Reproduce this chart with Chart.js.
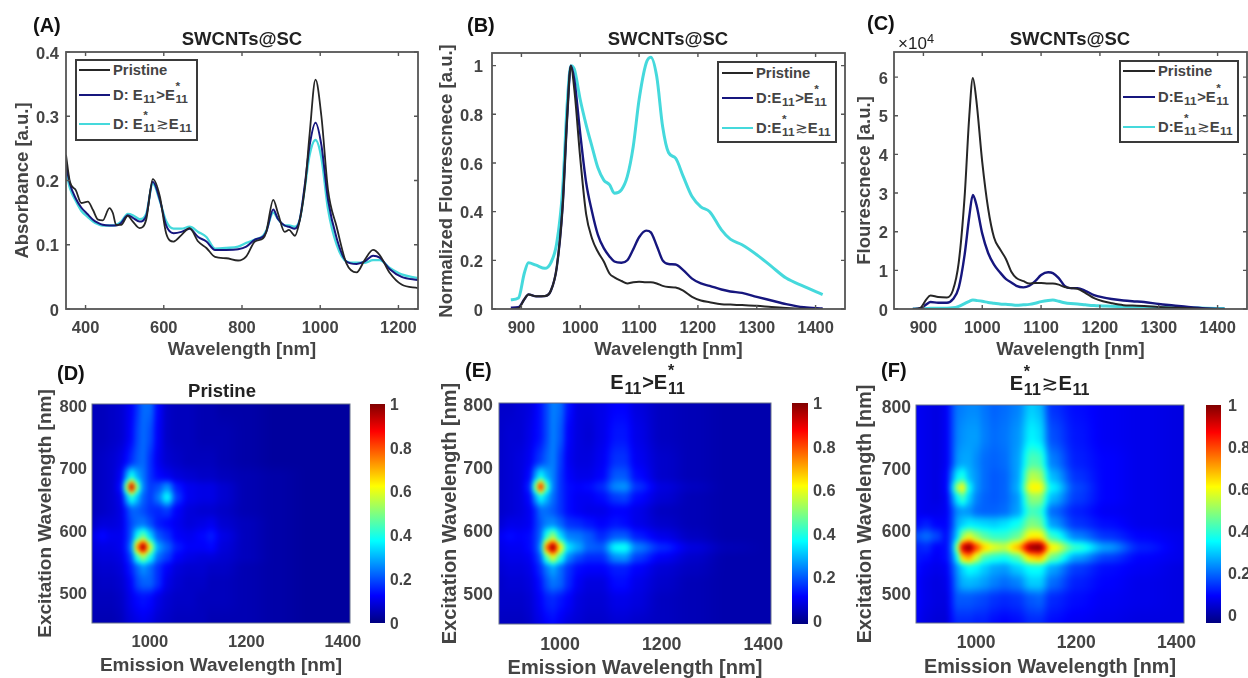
<!DOCTYPE html>
<html>
<head>
<meta charset="utf-8">
<title>SWCNTs@SC</title>
<script src="https://cdn.jsdelivr.net/npm/chart.js@4/dist/chart.umd.min.js"></script>
<style>
  html, body { margin: 0; padding: 0; background: #fff; }
  #page { position: relative; width: 1248px; height: 678px; overflow: hidden; filter: blur(0.7px);
    font-family: "Liberation Sans", Arial, sans-serif; font-weight: bold; color: #444; }
  #page canvas { position: absolute; }
  .lbl { position: absolute; white-space: nowrap; transform: translate(-50%, -50%); line-height: 1; }
  .tag { font-size: 20px; color: #111; transform: translate(0, -50%); }
  .ss { display: inline-block; position: relative; width: 1.16em; height: 1em; font-size: 0.8em; vertical-align: baseline; }
  .ss i { position: absolute; left: 0.05em; font-style: normal; line-height: 1; }
  .ss .up { top: -0.6em; }
  .ss .dn { top: 0.5em; }
  .legend { position: absolute; background: #fff; border: 2px solid #3a3a3a; box-sizing: border-box; }
  .legend .swatch { position: absolute; height: 2px; }
  .legend .text { position: absolute; white-space: nowrap; line-height: 1; font-size: 14.8px; transform: translateY(-50%); }
</style>
</head>
<body>
<div id="page"></div>
<script>
// (A) absorbance
const waveA = [350,360,375,389,406,419,432,444,461,470,478,491,508,521,538,555,572,590,606,625,645,666,688,709,731,760,790,811,833,854,862,880,892,909,920,935,948,961,973,988,1003,1020,1042,1067,1093,1114,1135,1152,1178,1208,1250];
const absPristine = [.24,.198,.185,.165,.167,.154,.139,.138,.157,.149,.131,.131,.145,.136,.126,.139,.202,.175,.118,.105,.115,.126,.105,.095,.081,.079,.0755,.082,.105,.11,.12,.17,.149,.12,.123,.114,.139,.19,.273,.357,.30,.185,.128,.071,.057,.0766,.092,.084,.056,.038,.0326];
const absLow = [.225,.195,.172,.158,.147,.139,.134,.131,.13,.13,.13,.134,.146,.142,.136,.145,.198,.17,.13,.118,.12,.125,.112,.105,.092,.092,.093,.097,.108,.113,.12,.155,.14,.13,.128,.125,.14,.195,.255,.29,.255,.17,.11,.074,.07,.074,.083,.08,.062,.05,.045];
const absHigh = [.215,.188,.168,.153,.143,.136,.132,.13,.13,.13,.131,.136,.148,.146,.14,.148,.195,.168,.137,.125,.125,.128,.12,.112,.094,.095,.097,.103,.108,.114,.122,.15,.14,.13,.13,.128,.14,.19,.24,.263,.235,.155,.10,.074,.072,.072,.076,.076,.064,.054,.048];

// (B) normalized fluorescence, (C) raw fluorescence /1e4, same wavelengths
const waveF = [882,895,905,912,925,940,950,960,970,978,984,990,1000,1010,1020,1030,1040,1050,1058,1070,1080,1090,1100,1112,1120,1130,1140,1150,1162,1175,1190,1205,1220,1240,1255,1275,1300,1325,1350,1380,1412];
const normPristine = [0,.003,.04,.06,.052,.053,.075,.17,.42,.8,1,.9,.62,.39,.29,.235,.195,.145,.13,.115,.105,.11,.112,.11,.11,.105,.095,.09,.088,.075,.05,.035,.028,.02,.018,.016,.013,.008,.004,.001,0];
const normLow = [.005,.007,.04,.06,.052,.053,.075,.17,.42,.8,1,.94,.72,.52,.40,.305,.25,.215,.195,.19,.2,.245,.295,.322,.315,.26,.2,.185,.183,.16,.125,.105,.095,.08,.072,.066,.05,.035,.02,.007,.002];
const normHigh = [.038,.045,.148,.19,.18,.167,.19,.27,.49,.85,1,.985,.86,.757,.667,.58,.53,.51,.476,.49,.545,.667,.86,1.01,1.035,.955,.75,.643,.62,.545,.462,.42,.40,.325,.287,.264,.223,.175,.127,.093,.059];
const rawPristine = [0,.03,.25,.35,.31,.30,.48,1.2,2.9,5,5.98,5.4,3.8,2.6,1.85,1.55,1.3,.95,.8,.72,.66,.67,.67,.66,.66,.63,.57,.54,.52,.42,.28,.2,.15,.1,.09,.08,.05,.035,.02,.005,0];
const rawLow = [0,.02,.12,.18,.16,.16,.25,.55,1.4,2.4,2.95,2.7,1.95,1.45,1.15,.95,.78,.68,.6,.56,.6,.72,.88,.95,.93,.8,.6,.54,.54,.47,.36,.3,.26,.22,.2,.18,.13,.09,.05,.015,0];
const rawHigh = [0,0,.01,.02,.02,.02,.03,.07,.14,.2,.23,.22,.2,.17,.15,.13,.12,.11,.1,.11,.12,.15,.19,.22,.23,.2,.16,.14,.13,.11,.09,.08,.07,.06,.05,.05,.04,.03,.03,.02,.01];

// excitation/emission maps, rows follow excitation (bottom to top), columns follow emission
const emission = [880,900,920,940,950,961,972,985,1000,1015,1035,1055,1080,1110,1125,1150,1200,1260,1330,1415];
const excitation = [450,490,515,540,555,572,590,610,630,652,668,685,710,750,800];
const mapPristine = [
  [.05,.05,.05,.06,.08,.09,.10,.11,.10,.08,.07,.06,.06,.06,.05,.05,.05,.04,.03,.03],
  [.06,.06,.06,.07,.09,.11,.13,.14,.13,.10,.08,.07,.07,.06,.06,.06,.05,.04,.03,.03],
  [.06,.07,.07,.08,.10,.13,.19,.22,.22,.17,.10,.08,.07,.07,.06,.06,.05,.04,.03,.03],
  [.07,.08,.08,.09,.12,.16,.22,.27,.23,.17,.12,.09,.08,.08,.07,.07,.05,.04,.03,.03],
  [.08,.09,.09,.10,.14,.20,.40,.52,.38,.23,.18,.12,.10,.09,.09,.08,.06,.04,.03,.03],
  [.09,.10,.10,.11,.16,.26,.72,1.0,.58,.29,.22,.15,.12,.12,.13,.09,.06,.04,.03,.03],
  [.10,.13,.11,.11,.15,.22,.38,.48,.33,.21,.17,.12,.11,.13,.15,.10,.06,.04,.03,.03],
  [.07,.09,.09,.10,.15,.20,.23,.24,.20,.15,.13,.11,.09,.10,.11,.08,.06,.04,.03,.03],
  [.06,.07,.08,.10,.16,.22,.22,.20,.17,.16,.18,.12,.09,.08,.08,.07,.05,.04,.03,.03],
  [.06,.07,.08,.11,.28,.42,.32,.22,.18,.24,.38,.18,.11,.10,.10,.08,.05,.04,.03,.03],
  [.06,.07,.08,.14,.52,1.0,.52,.25,.18,.20,.27,.15,.11,.10,.10,.08,.05,.04,.03,.03],
  [.06,.07,.08,.12,.27,.40,.30,.24,.17,.13,.11,.09,.08,.07,.07,.06,.05,.04,.03,.03],
  [.06,.07,.08,.10,.13,.17,.21,.23,.17,.11,.08,.07,.06,.06,.06,.05,.04,.03,.03,.03],
  [.06,.06,.07,.08,.10,.13,.19,.23,.20,.12,.07,.06,.06,.05,.05,.05,.04,.03,.03,.03],
  [.06,.06,.07,.08,.10,.12,.17,.23,.23,.13,.07,.06,.06,.05,.05,.04,.04,.03,.03,.03]
];
const mapLow = [
  [.05,.05,.05,.06,.08,.09,.11,.12,.10,.08,.07,.06,.06,.07,.07,.06,.05,.04,.03,.03],
  [.06,.06,.06,.07,.09,.11,.14,.15,.13,.11,.08,.07,.07,.09,.09,.08,.05,.04,.03,.03],
  [.06,.07,.07,.08,.10,.13,.19,.23,.21,.15,.10,.08,.08,.12,.12,.09,.06,.04,.03,.03],
  [.07,.08,.08,.09,.12,.16,.23,.28,.22,.16,.12,.11,.11,.14,.14,.11,.07,.05,.03,.03],
  [.08,.09,.09,.10,.14,.20,.42,.58,.40,.24,.18,.15,.15,.25,.26,.17,.10,.06,.03,.03],
  [.09,.10,.10,.12,.16,.26,.76,1.0,.62,.34,.28,.21,.20,.37,.38,.24,.15,.08,.04,.03],
  [.10,.12,.11,.12,.16,.22,.40,.52,.33,.24,.23,.20,.15,.20,.20,.14,.09,.05,.03,.03],
  [.07,.09,.09,.10,.15,.20,.24,.25,.21,.16,.15,.13,.11,.13,.12,.09,.06,.04,.03,.03],
  [.06,.07,.08,.10,.15,.22,.22,.20,.16,.12,.10,.09,.09,.11,.11,.09,.05,.04,.03,.03],
  [.06,.07,.08,.12,.26,.38,.30,.22,.16,.12,.10,.10,.12,.17,.18,.12,.07,.04,.03,.03],
  [.06,.07,.08,.15,.48,.90,.46,.24,.16,.12,.11,.12,.15,.25,.26,.16,.08,.05,.03,.03],
  [.06,.07,.08,.12,.26,.37,.29,.24,.16,.11,.09,.09,.11,.20,.20,.12,.06,.04,.03,.03],
  [.06,.07,.08,.10,.14,.17,.21,.24,.17,.10,.08,.08,.10,.16,.16,.10,.06,.04,.03,.03],
  [.06,.07,.07,.09,.11,.13,.18,.24,.20,.11,.08,.07,.09,.13,.13,.09,.05,.04,.03,.03],
  [.06,.06,.07,.08,.10,.13,.18,.24,.22,.13,.08,.08,.09,.11,.11,.08,.05,.04,.03,.03]
];
const mapHigh = [
  [.08,.06,.05,.05,.10,.13,.13,.13,.12,.12,.10,.09,.10,.13,.13,.10,.08,.07,.06,.06],
  [.09,.07,.06,.06,.12,.18,.18,.18,.17,.16,.14,.13,.14,.18,.19,.13,.10,.08,.07,.06],
  [.09,.07,.06,.07,.13,.22,.27,.28,.27,.25,.22,.20,.22,.30,.30,.20,.12,.09,.07,.06],
  [.10,.08,.07,.08,.15,.24,.31,.36,.34,.30,.26,.25,.30,.36,.36,.26,.15,.10,.08,.06],
  [.11,.10,.08,.10,.18,.35,.65,.70,.55,.42,.38,.36,.42,.65,.68,.45,.25,.15,.09,.07],
  [.12,.13,.09,.10,.20,.50,.92,1.0,.80,.66,.58,.55,.68,.98,1.0,.62,.40,.25,.12,.07],
  [.17,.20,.16,.10,.18,.30,.50,.58,.50,.44,.40,.40,.45,.62,.62,.40,.22,.14,.09,.07],
  [.10,.12,.09,.09,.15,.26,.30,.33,.32,.31,.30,.32,.36,.48,.46,.25,.14,.10,.07,.06],
  [.08,.07,.07,.08,.15,.23,.25,.24,.20,.19,.19,.20,.25,.42,.40,.20,.12,.08,.07,.06],
  [.08,.07,.06,.08,.20,.34,.42,.30,.22,.19,.18,.19,.24,.50,.50,.28,.15,.09,.07,.06],
  [.08,.07,.06,.09,.26,.52,.62,.35,.24,.20,.18,.19,.26,.62,.62,.34,.16,.09,.07,.06],
  [.08,.07,.06,.09,.21,.34,.38,.28,.24,.20,.18,.19,.25,.54,.52,.28,.14,.09,.07,.06],
  [.08,.07,.06,.08,.15,.24,.26,.26,.23,.20,.19,.20,.25,.43,.42,.22,.12,.09,.07,.06],
  [.08,.07,.06,.08,.15,.22,.24,.25,.25,.22,.20,.21,.24,.34,.32,.17,.11,.08,.07,.06],
  [.08,.07,.06,.08,.15,.21,.22,.23,.23,.21,.19,.20,.22,.30,.28,.14,.10,.08,.07,.06]
];

// tick labels
const ticksAx = [400,600,800,1000,1200];
const ticksAy = [0,0.1,0.2,0.3,0.4];
const ticksBx = [900,1000,1100,1200,1300,1400];
const ticksBy = [0,0.2,0.4,0.6,0.8,1];
const ticksCy = [0,1,2,3,4,5,6];
const ticksMapX = [1000,1200,1400];
const ticksMapY = [500,600,700,800];
const ticksBar = [0,0.2,0.4,0.6,0.8,1];

const BLACK = '#262626', NAVY = '#16167e', CYAN = '#45d9dc';
const FONT = 'Liberation Sans, Arial, sans-serif';
const TEXT = '#444';
const page = document.getElementById('page');

function makeCanvas(l, t, r, b) {
  const c = document.createElement('canvas');
  c.width = r - l;
  c.height = b - t;
  c.style.left = l + 'px';
  c.style.top = t + 'px';
  page.appendChild(c);
  return c.getContext('2d');
}

function label(html, x, y, size, cls) {
  const d = document.createElement('div');
  d.className = 'lbl ' + (cls || '');
  d.style.left = x + 'px';
  d.style.top = y + 'px';
  if (size) d.style.fontSize = size + 'px';
  d.style.color = cls ? '' : '#222';
  d.innerHTML = html;
  page.appendChild(d);
}

const E11 = 'E<span class="ss"><i class="dn">11</i></span>';
const ES11 = 'E<span class="ss"><i class="up">*</i><i class="dn">11</i></span>';
const GE = '<span style="font-weight:normal;font-family:DejaVu Sans">\u2273</span>';

function legend(box, swatchX, swatchW, textX, rows) {
  const d = document.createElement('div');
  d.className = 'legend';
  d.style.left = box[0] + 'px';
  d.style.top = box[1] + 'px';
  d.style.width = (box[2] - box[0]) + 'px';
  d.style.height = (box[3] - box[1]) + 'px';
  rows.forEach(r => {
    const s = document.createElement('div');
    s.className = 'swatch';
    s.style.left = (swatchX - box[0] - 2) + 'px';
    s.style.width = swatchW + 'px';
    s.style.top = (r.y - box[1] - 3) + 'px';
    s.style.background = r.color;
    d.appendChild(s);
    const t = document.createElement('div');
    t.className = 'text';
    t.style.left = (textX - box[0] - 2) + 'px';
    t.style.top = (r.y - box[1] - 2) + 'px';
    t.innerHTML = r.html;
    d.appendChild(t);
  });
  page.appendChild(d);
}

// MATLAB style box: frame plus inward ticks on all four sides
const boxPlugin = {
  id: 'matlabBox',
  afterDatasetsDraw(chart) {
    const { ctx, chartArea: a, scales } = chart;
    ctx.save();
    ctx.strokeStyle = '#555';
    ctx.lineWidth = 1.8;
    ctx.strokeRect(a.left, a.top, a.right - a.left, a.bottom - a.top);
    ctx.lineWidth = 1.4;
    ctx.beginPath();
    scales.x.ticks.forEach(t => {
      const px = scales.x.getPixelForValue(t.value);
      ctx.moveTo(px, a.bottom); ctx.lineTo(px, a.bottom - 4);
      ctx.moveTo(px, a.top); ctx.lineTo(px, a.top + 4);
    });
    scales.y.ticks.forEach(t => {
      const py = scales.y.getPixelForValue(t.value);
      ctx.moveTo(a.left, py); ctx.lineTo(a.left + 4, py);
      ctx.moveTo(a.right, py); ctx.lineTo(a.right - 4, py);
    });
    ctx.stroke();
    ctx.restore();
  }
};

function zip(xs, ys) {
  return xs.map((x, i) => ({ x: x, y: ys[i] }));
}

function axes(cfg) {
  return {
    x: {
      type: 'linear', min: cfg.xMin, max: cfg.xMax,
      grid: { display: false, drawTicks: false },
      border: { display: false },
      afterBuildTicks: s => { s.ticks = cfg.xTicks.map(v => ({ value: v })); },
      afterFit: s => { s.height = cfg.bottom - cfg.plot[3]; s.paddingLeft = 0; s.paddingRight = 0; },
      ticks: { callback: v => String(v), autoSkip: false, maxRotation: 0, padding: cfg.xPad,
        color: TEXT, font: { family: FONT, weight: 'bold', size: cfg.tickSize } },
      title: { display: true, text: cfg.xTitle, color: TEXT, padding: { top: 0, bottom: cfg.xTitlePad },
        font: { family: FONT, weight: 'bold', size: cfg.titleSize } }
    },
    y: {
      type: 'linear', min: cfg.yMin, max: cfg.yMax,
      grid: { display: false, drawTicks: false },
      border: { display: false },
      afterBuildTicks: s => { s.ticks = cfg.yTicks.map(v => ({ value: v })); },
      afterFit: s => { s.width = cfg.plot[0] - cfg.left; s.paddingTop = 0; s.paddingBottom = 0; },
      ticks: { callback: v => String(v), autoSkip: false, padding: cfg.yPad, labelOffset: cfg.yShift,
        color: TEXT, font: { family: FONT, weight: 'bold', size: cfg.tickSize } },
      title: { display: true, text: cfg.yTitle, color: TEXT, padding: { top: cfg.yTitlePad, bottom: 0 },
        font: { family: FONT, weight: 'bold', size: cfg.titleSize } }
    }
  };
}

function baseOptions(cfg) {
  return {
    responsive: false,
    animation: false,
    devicePixelRatio: 1,
    layout: { padding: { left: 0, bottom: 0, top: cfg.plot[1] - cfg.top, right: cfg.right - cfg.plot[2] } },
    plugins: { legend: { display: false }, tooltip: { enabled: false } },
    scales: axes(cfg)
  };
}

function spectrum(cfg, xs, series) {
  const ctx = makeCanvas(cfg.left, cfg.top, cfg.right, cfg.bottom);
  return new Chart(ctx, {
    type: 'line',
    data: {
      datasets: series.map(s => ({
        data: zip(xs, s.values), borderColor: s.color, borderWidth: s.width,
        pointRadius: 0, cubicInterpolationMode: 'monotone', fill: false
      }))
    },
    options: baseOptions(cfg),
    plugins: [boxPlugin]
  });
}

function jet(t) {
  const c = v => Math.max(0, Math.min(1, v)) * 255;
  return [c(1.5 - Math.abs(4 * t - 3)), c(1.5 - Math.abs(4 * t - 2)), c(1.5 - Math.abs(4 * t - 1))];
}

// index of the grid step holding v, with an eased fraction so spots come out round
function bracket(list, v) {
  let i = 0;
  while (i < list.length - 2 && v > list[i + 1]) i++;
  const f = Math.max(0, Math.min(1, (v - list[i]) / (list[i + 1] - list[i])));
  return [i, f * f * (3 - 2 * f)];
}

// paints the shaded surface from the dataset, positions come from the chart scales
function heatPlugin(cmin) {
  return {
    id: 'heat',
    beforeDatasetsDraw(chart) {
      const { ctx, chartArea: a, scales } = chart;
      const cols = emission.length;
      const pts = chart.data.datasets[0].data;
      const margin = 8;
      const w = Math.round(a.right - a.left) + margin * 2;
      const h = Math.round(a.bottom - a.top) + margin * 2;
      const off = document.createElement('canvas');
      off.width = w;
      off.height = h;
      const octx = off.getContext('2d');
      const img = octx.createImageData(w, h);
      for (let py = 0; py < h; py++) {
        const [r, fy] = bracket(excitation, scales.y.getValueForPixel(a.top - margin + py));
        for (let px = 0; px < w; px++) {
          const [c, fx] = bracket(emission, scales.x.getValueForPixel(a.left - margin + px));
          const v00 = pts[r * cols + c].v, v01 = pts[r * cols + c + 1].v;
          const v10 = pts[(r + 1) * cols + c].v, v11 = pts[(r + 1) * cols + c + 1].v;
          const v = (v00 * (1 - fx) + v01 * fx) * (1 - fy) + (v10 * (1 - fx) + v11 * fx) * fy;
          const rgb = jet((v - cmin) / (1 - cmin));
          const o = (py * w + px) * 4;
          img.data[o] = rgb[0]; img.data[o + 1] = rgb[1]; img.data[o + 2] = rgb[2]; img.data[o + 3] = 255;
        }
      }
      octx.putImageData(img, 0, 0);
      ctx.save();
      ctx.beginPath();
      ctx.rect(a.left, a.top, a.right - a.left, a.bottom - a.top);
      ctx.clip();
      ctx.filter = 'blur(2px)';
      ctx.drawImage(off, a.left - margin, a.top - margin);
      ctx.restore();
      ctx.strokeStyle = '#67708a';
      ctx.lineWidth = 1;
      ctx.strokeRect(a.left, a.top, a.right - a.left, a.bottom - a.top);
    }
  };
}

function heatmap(cfg, grid, cmin) {
  const ctx = makeCanvas(cfg.left, cfg.top, cfg.right, cfg.bottom);
  const pts = [];
  grid.forEach((row, r) => row.forEach((v, c) => pts.push({ x: emission[c], y: excitation[r], v: v })));
  return new Chart(ctx, {
    type: 'scatter',
    data: { datasets: [{ data: pts, pointRadius: 0 }] },
    options: baseOptions(cfg),
    plugins: [heatPlugin(cmin)]
  });
}

function colorbar(bar, cmin, pad, size) {
  const top = bar[1] - 12, bottom = bar[3] + 12, right = bar[2] + 42;
  const ctx = makeCanvas(bar[0], top, right, bottom);
  return new Chart(ctx, {
    type: 'bar',
    data: {
      labels: [''],
      datasets: [{
        data: [[cmin, 1]],
        barPercentage: 1, categoryPercentage: 1, borderSkipped: false,
        backgroundColor: c => {
          const a = c.chart.chartArea;
          if (!a) return '#00f';
          const g = c.chart.ctx.createLinearGradient(0, a.bottom, 0, a.top);
          [0, 0.125, 0.375, 0.625, 0.875, 1].forEach(s => {
            const rgb = jet(s);
            g.addColorStop(s, 'rgb(' + rgb.join(',') + ')');
          });
          return g;
        }
      }]
    },
    options: {
      responsive: false, animation: false, devicePixelRatio: 1,
      layout: { padding: { top: 12, bottom: 12, left: 0, right: 0 } },
      plugins: { legend: { display: false }, tooltip: { enabled: false } },
      scales: {
        x: { display: false },
        y: {
          position: 'right', min: cmin, max: 1,
          grid: { display: false, drawTicks: false },
          border: { display: false },
          afterBuildTicks: s => { s.ticks = ticksBar.map(v => ({ value: v })); },
          afterFit: s => { s.width = 42; s.paddingTop = 0; s.paddingBottom = 0; },
          ticks: { callback: v => String(v), autoSkip: false, padding: pad, labelOffset: 1.5, color: TEXT,
            font: { family: FONT, weight: 'bold', size: size } }
        }
      }
    }
  });
}

const lineBase = { tickSize: 16.5, titleSize: 18.5, xPad: 10, yShift: 2 };

spectrum(Object.assign({}, lineBase, {
  left: 0, top: 40, right: 425, bottom: 362, plot: [66, 52, 418, 309],
  xMin: 350, xMax: 1250, yMin: 0, yMax: 0.4, xTicks: ticksAx, yTicks: ticksAy,
  xTitle: 'Wavelength [nm]', yTitle: 'Absorbance [a.u.]', yPad: 7, yTitlePad: 12, xTitlePad: 1
}), waveA, [
  { values: absPristine, color: BLACK, width: 1.8 },
  { values: absLow, color: NAVY, width: 2 },
  { values: absHigh, color: CYAN, width: 2.3 }
]);

spectrum(Object.assign({}, lineBase, {
  left: 430, top: 40, right: 852, bottom: 362, plot: [492, 53, 845, 309],
  xMin: 850, xMax: 1450, yMin: 0, yMax: 1.052, xTicks: ticksBx, yTicks: ticksBy,
  xTitle: 'Wavelength [nm]', yTitle: 'Normalized Flourescnece [a.u.]', yPad: 9, yTitlePad: 6, xTitlePad: 1
}), waveF, [
  { values: normPristine, color: BLACK, width: 2 },
  { values: normLow, color: NAVY, width: 2.4 },
  { values: normHigh, color: CYAN, width: 3 }
]);

spectrum(Object.assign({}, lineBase, {
  left: 850, top: 40, right: 1254, bottom: 362, plot: [894, 52, 1247, 309],
  xMin: 850, xMax: 1450, yMin: 0, yMax: 6.65, xTicks: ticksBx, yTicks: ticksCy,
  xTitle: 'Wavelength [nm]', yTitle: 'Flourescnece [a.u.]', yPad: 6, yTitlePad: 4, xTitlePad: 1
}), waveF, [
  { values: rawPristine, color: BLACK, width: 2 },
  { values: rawLow, color: NAVY, width: 2.4 },
  { values: rawHigh, color: CYAN, width: 3 }
]);

const mapBase = {
  xMin: 880, xMax: 1415, yMin: 450, yMax: 800, xTicks: ticksMapX, yTicks: ticksMapY,
  xTitle: 'Emission Wavelength [nm]', yTitle: 'Excitation Wavelength [nm]', xPad: 10, yShift: 3
};

heatmap(Object.assign({}, mapBase, {
  left: 20, top: 375, right: 380, bottom: 682, plot: [92, 404, 350, 623],
  tickSize: 16.5, titleSize: 19, yPad: 5, yTitlePad: 14, xTitlePad: 5
}), mapPristine, 0);
colorbar([370, 404, 385, 623], 0, 5, 15.6);

heatmap(Object.assign({}, mapBase, {
  left: 430, top: 375, right: 800, bottom: 682, plot: [499, 403, 771, 624],
  tickSize: 17.8, titleSize: 20, yPad: 6, yTitlePad: 8, xTitlePad: 2
}), mapLow, -0.015);
colorbar([792, 403, 808, 624], -0.015, 5, 16.3);

heatmap(Object.assign({}, mapBase, {
  left: 850, top: 375, right: 1205, bottom: 682, plot: [916, 405, 1184, 623],
  tickSize: 17.5, titleSize: 19.8, yPad: 5, yTitlePad: 4, xTitlePad: 3
}), mapHigh, -0.04);
colorbar([1206, 405, 1221, 623], -0.04, 7, 16);

// panel tags and titles
label('(A)', 33, 25, 20, 'tag');
label('(B)', 467, 25, 20, 'tag');
label('(C)', 867, 23, 20, 'tag');
label('(D)', 57, 373, 20, 'tag');
label('(E)', 465, 370, 20, 'tag');
label('(F)', 881, 370, 20, 'tag');
label('SWCNTs@SC', 242, 39, 18.5);
label('SWCNTs@SC', 668, 39, 18.5);
label('SWCNTs@SC', 1070, 39, 18.5);
label('Pristine', 222, 391, 18.5);
label(E11 + '&gt;' + ES11, 648, 382, 20);
label(ES11 + GE + E11, 1050, 383, 20);
label('<span style="font-weight:normal">\u00d710<sup style="font-size:0.75em">4</sup></span>', 916, 42, 17);

legend([75, 59, 198, 141], 79, 31, 113, [
  { y: 70, color: BLACK, html: 'Pristine' },
  { y: 95, color: NAVY, html: 'D: ' + E11 + '&gt;' + ES11 },
  { y: 124, color: CYAN, html: 'D: ' + ES11 + GE + E11 }
]);
legend([717, 61, 837, 143], 722, 31, 756, [
  { y: 73, color: BLACK, html: 'Pristine' },
  { y: 98, color: NAVY, html: 'D:' + E11 + '&gt;' + ES11 },
  { y: 128, color: CYAN, html: 'D:' + ES11 + GE + E11 }
]);
legend([1119, 60, 1239, 143], 1123, 32, 1158, [
  { y: 71, color: BLACK, html: 'Pristine' },
  { y: 97, color: NAVY, html: 'D:' + E11 + '&gt;' + ES11 },
  { y: 127, color: CYAN, html: 'D:' + ES11 + GE + E11 }
]);
</script>
</body>
</html>
